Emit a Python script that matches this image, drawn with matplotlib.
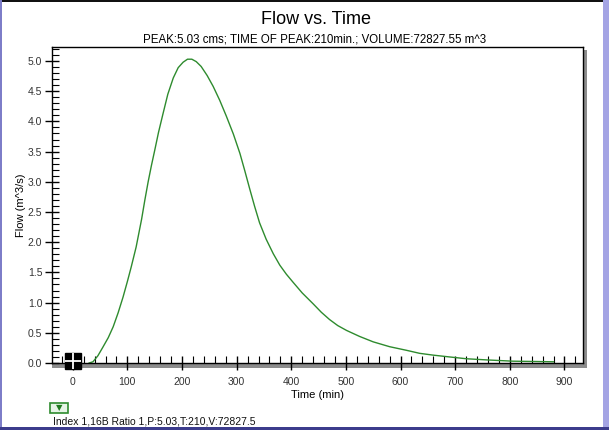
import matplotlib
matplotlib.use("Agg")
import matplotlib.pyplot as plt
from matplotlib.patches import Rectangle
from matplotlib.ticker import MultipleLocator, FormatStrFormatter

plt.rcParams["font.family"] = ["Liberation Sans", "DejaVu Sans"]

# hydrograph
time_min = [30, 37, 46, 55, 65, 74, 83, 92, 100, 107, 116, 126, 132, 138, 144,
            150, 157, 165, 174, 184, 193, 202, 210, 218, 226, 235, 246, 257, 269,
            281, 294, 306, 315, 324, 333, 342, 354, 367, 379, 391, 403, 420, 440,
            455, 470, 485, 501, 525, 550, 580, 611, 635, 660, 690, 721, 760, 806,
            845, 880]
flow_cms = [0.0, 0.02, 0.12, 0.26, 0.42, 0.6, 0.83, 1.09, 1.35, 1.59, 1.92, 2.38,
            2.7, 3.0, 3.27, 3.52, 3.82, 4.12, 4.45, 4.72, 4.89, 4.98, 5.03, 5.03,
            4.99, 4.91, 4.76, 4.58, 4.35, 4.09, 3.79, 3.47, 3.18, 2.88, 2.59, 2.32,
            2.05, 1.81, 1.62, 1.47, 1.34, 1.16, 0.98, 0.84, 0.72, 0.62, 0.54, 0.44,
            0.35, 0.27, 0.21, 0.16, 0.13, 0.1, 0.07, 0.05, 0.03, 0.025, 0.02]

handle_time = [0]
handle_flow = [0.03]

title = "Flow vs. Time"
subtitle = "PEAK:5.03 cms; TIME OF PEAK:210min.; VOLUME:72827.55 m^3"
footer = "Index 1,16B Ratio 1,P:5.03,T:210,V:72827.5"

W, H = 609, 430
fig = plt.figure(figsize=(W / 100, H / 100), dpi=100)
fig.patch.set_facecolor("white")


def px(x0, y0, w, h):
    # figure pixel box (top-left origin) -> figure fraction
    return [x0 / W, 1 - (y0 + h) / H, w / W, h / H]


# window border
for box, c in [(px(0, 0, W, 2), "#111111"), (px(0, 0, 2, H), "#7d7dc8"),
               (px(603, 0, 6, H), "#a4a4e4"), (px(0, 427, W, 3), "#3c3c8c")]:
    fig.add_artist(Rectangle(box[:2], box[2], box[3], transform=fig.transFigure,
                             color=c, lw=0, zorder=5))

# drop shadow of plot frame
sb = px(52, 50, 535, 318)
fig.add_artist(Rectangle(sb[:2], sb[2], sb[3], transform=fig.transFigure,
                         color="#8c8c8c", lw=0, zorder=0))

ax = fig.add_axes(px(52, 46.7, 531, 316.3))
ax.set_zorder(1)
ax.plot(time_min, flow_cms, color="#2e8b2e", lw=1.0)
ax.plot(handle_time, handle_flow, marker="s", ms=11, color="black", clip_on=False, zorder=6)
ax.plot(handle_time, handle_flow, marker="+", ms=12, mew=1.3, color="white", clip_on=False, zorder=7)

ax.set_xlim(-38, 934)
ax.set_ylim(0, 5.237)
for s in ax.spines.values():
    s.set_linewidth(1.0)
    s.set_color("black")

ax.xaxis.set_major_locator(MultipleLocator(100))
ax.xaxis.set_minor_locator(MultipleLocator(20))
ax.yaxis.set_major_locator(MultipleLocator(0.5))
ax.yaxis.set_minor_locator(MultipleLocator(0.1))
ax.yaxis.set_major_formatter(FormatStrFormatter("%.1f"))
ax.tick_params(which="major", direction="inout", length=10, width=1, labelsize=7.5,
               labelcolor="#333333", pad=5)
ax.tick_params(axis="y", which="major", pad=2)
ax.tick_params(which="minor", direction="in", length=5, width=0.8)

ax.set_xlabel("Time (min)", fontsize=8, labelpad=2)
ax.set_ylabel("Flow (m^3/s)", fontsize=8, labelpad=1)

fig.text(316 / W, 1 - 20 / H, title, ha="center", va="center", fontsize=13)
fig.text(315 / W, 1 - 39 / H, subtitle, ha="center", va="center", fontsize=8.3)

bb = px(50, 403, 18, 10)
fig.add_artist(Rectangle(bb[:2], bb[2], bb[3], transform=fig.transFigure,
                         facecolor="#e6f5e6", edgecolor="#2e8b2e", lw=1.2))
fig.text(59 / W, 1 - 408 / H, "\u25BC", ha="center", va="center", fontsize=6,
         color="#1f7a1f", family=["DejaVu Sans"])
fig.text(53 / W, 1 - 421 / H, footer, ha="left", va="center", fontsize=7.5, color="#111111")

fig.savefig("out.png", dpi=100)
